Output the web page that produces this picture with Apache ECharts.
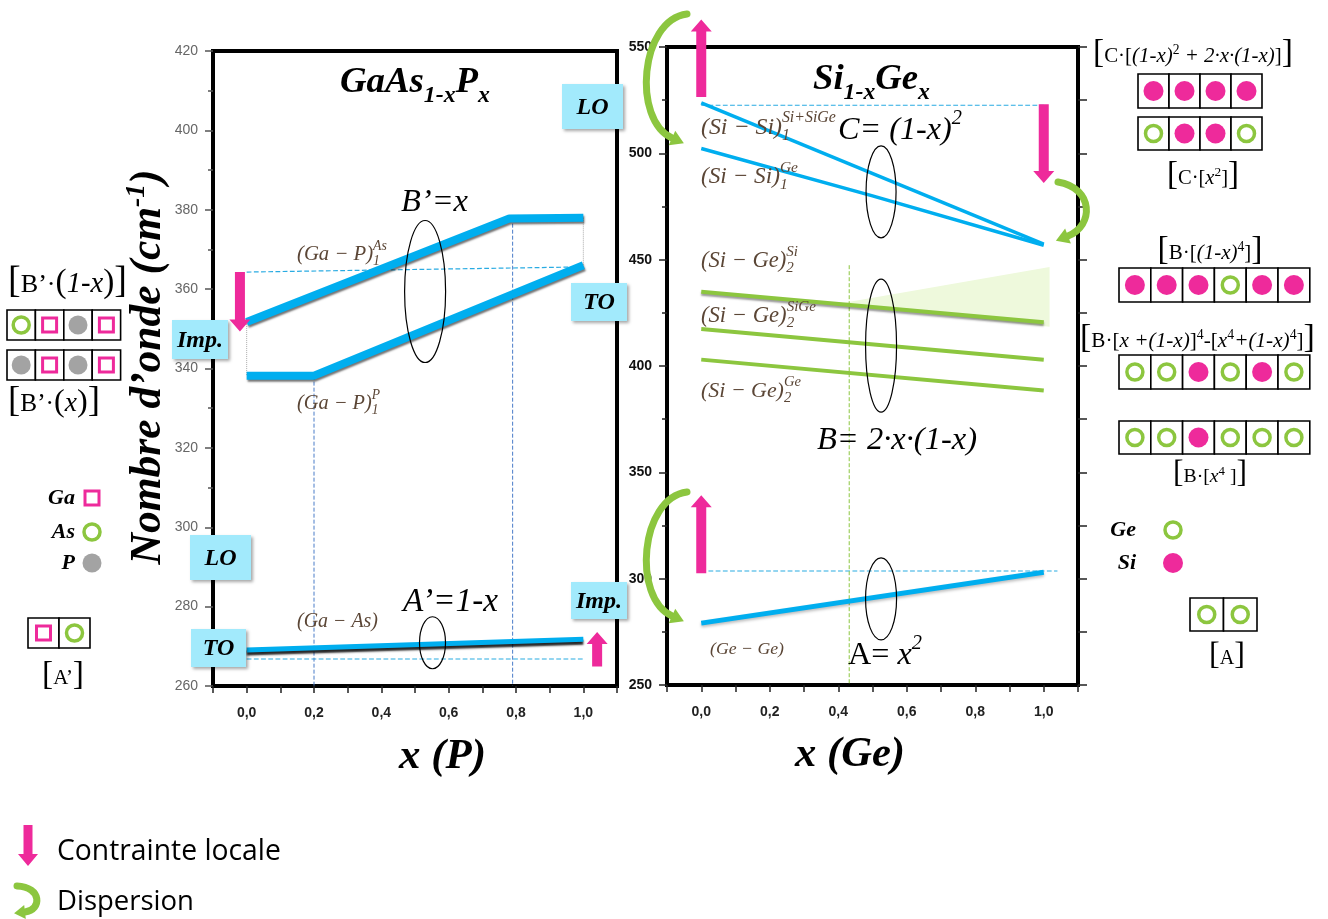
<!DOCTYPE html>
<html><head><meta charset="utf-8">
<script src="https://cdn.jsdelivr.net/npm/echarts@6/dist/echarts.min.js"></script>
<style>html,body{margin:0;padding:0;background:#fff}#c{width:1328px;height:919px}</style>
</head><body><div id="c"></div>
<script>
// ---------------- DATA ----------------
const xTickLabels = ['0,0','0,2','0,4','0,6','0,8','1,0'];
// GaAs(1-x)P(x) panel
const gaP_As_x = [0, 0.78, 1.0];
const gaP_As_y = [351.7, 377.8, 378.0];
const gaP_P_x  = [0, 0.2, 1.0];
const gaP_P_y  = [338.2, 338.2, 366.0];
const gaAs_x   = [0, 1.0];
const gaAs_y   = [269.1, 271.8];
const gaDashUpper_x = [0, 1.0], gaDashUpper_y = [364.3, 365.6];
const gaDashLower_x = [0, 1.0], gaDashLower_y = [266.8, 266.8];
const gaVDash1_x = [0.2, 0.2],  gaVDash1_y = [338.2, 260];
const gaVDash2_x = [0.79, 0.79], gaVDash2_y = [378, 260];
const gaDot0_x = [0, 0], gaDot0_y = [351.7, 338.2];
const gaDot1_x = [1, 1], gaDot1_y = [378, 366];
// Si(1-x)Ge(x) panel
const siSi1_x = [0, 1.0],      siSi1_y = [523.7, 457.3];
const siSiGe_x = [0, 0.5, 1.0], siSiGe_y = [502.3, 480.0, 456.8];
const siGeSi_x = [0, 1.0],     siGeSi_y = [434.9, 420.6];
const siGeSiGe_x = [0, 1.0],   siGeSiGe_y = [417.4, 402.9];
const siGeGe_x = [0, 1.0],     siGeGe_y = [403.0, 388.5];
const geGe_x = [0, 1.0],       geGe_y = [279.1, 303.0];
const siDashUpper_x = [0, 1.0],  siDashUpper_y = [522.6, 522.6];
const siDashLower_x = [0, 1.04], siDashLower_y = [303.6, 303.6];
const siVDash_x = [0.432, 0.432], siVDash_y = [447.4, 250];
const siTriangle = [[0.396, 429.2], [1.017, 446.6], [1.017, 418.4]];
// arrows [x, from, to]
const gaArrowDown = [-0.02, 364.3, 349.3];
const gaArrowUp   = [1.041, 264.9, 273.6];
const siArrowUp1  = [0, 526.5, 562.9];
const siArrowDown = [1.0, 523.1, 486.1];
const siArrowUp2  = [0, 302.5, 339.2];
// ellipses [x, y, rx(px), ry(px)]
const gaEllipses = [[0.53, 359.4, 20.5, 71], [0.552, 270.9, 13, 26]];
const siEllipses = [[0.525, 481.9, 15, 46], [0.525, 409.6, 15.5, 66.5], [0.525, 290.5, 15.5, 41]];
// legend atoms: S = Si (pink dot), G = Ge/As (green ring), Q = Ga (pink square), P = P (grey dot)
const cRowA = ['S','S','S','S'];
const cRowB = ['G','S','S','G'];
const bRowA = ['S','S','S','G','S','S'];
const bRowB = ['G','G','S','G','S','G'];
const bRowC = ['G','G','S','G','G','G'];
const aRow  = ['G','G'];
const bpRowA = ['G','Q','P','Q'];
const bpRowB = ['P','Q','P','Q'];
const apRow = ['Q','G'];

// ---------------- STYLE ----------------
const BLUE = '#00aeef', PINK = '#ee2a9b', GREEN = '#8cc63f', LBOX = '#a2eafc';
const SERIF = '"Liberation Serif", "DejaVu Serif", serif';
const zip = (xs, ys) => xs.map((x, i) => [x, ys[i]]);

const chart = echarts.init(document.getElementById('c'));

const xFmt = v => { const k = Math.round(v * 10); if (k < 0 || k > 10 || k % 2) return ''; return xTickLabels[k / 2]; };
function xAxisFor(gi) {
  return {type:'value', gridIndex:gi, min:-0.1, max:1.1, interval:0.1,
    axisLine:{show:true, onZero:false, lineStyle:{color:'#000', width:4}},
    axisTick:{show:true, length:7, lineStyle:{color:'#222', width:1.5}},
    axisLabel:{formatter:xFmt, color:'#222', fontSize:14, fontWeight:'bold', fontFamily:'Liberation Sans', margin:20},
    splitLine:{show:false}};
}
function ln(name, gi, data, color, width, extra) {
  return {name, type:'line', xAxisIndex:gi, yAxisIndex:gi, data, symbol:'none', silent:true,
    lineStyle:Object.assign({color, width}, extra || {}), z:3};
}
const shadow = {shadowColor:'rgba(0,0,0,0.55)', shadowBlur:2, shadowOffsetY:2, shadowOffsetX:1};

chart.setOption({
  animation:false,
  grid:[
    {left:213, top:51, width:404, height:635, show:true, borderColor:'#000', borderWidth:4, backgroundColor:'#fff'},
    {left:667, top:47, width:411, height:638, show:true, borderColor:'#000', borderWidth:4, backgroundColor:'#fff'}
  ],
  xAxis:[xAxisFor(0), xAxisFor(1)],
  yAxis:[
    {type:'value', gridIndex:0, min:260, max:420, interval:20,
     axisLine:{show:true, onZero:false, lineStyle:{color:'#000', width:4}},
     axisTick:{show:true, length:8, lineStyle:{color:'#555', width:1.5}},
     minorTick:{show:true, splitNumber:2, length:5, lineStyle:{color:'#555', width:1.5}},
     axisLabel:{color:'#666', fontSize:14, fontFamily:'Liberation Sans', margin:15},
     splitLine:{show:false}},
    {type:'value', gridIndex:1, min:250, max:550, interval:50,
     axisLine:{show:true, onZero:false, lineStyle:{color:'#000', width:4}},
     axisTick:{show:true, length:8, lineStyle:{color:'#222', width:1.5}},
     minorTick:{show:true, splitNumber:2, length:5, lineStyle:{color:'#222', width:1.5}},
     axisLabel:{color:'#111', fontSize:14, fontWeight:'bold', fontFamily:'Liberation Sans', margin:15},
     splitLine:{show:false}},
    {type:'value', gridIndex:1, position:'right', min:250, max:550, interval:50,
     axisLine:{show:true, onZero:false, lineStyle:{color:'#000', width:4}},
     axisTick:{show:true, length:9, lineStyle:{color:'#222', width:1.5}},
     minorTick:{show:true, splitNumber:2, length:9, lineStyle:{color:'#222', width:1.5}},
     axisLabel:{show:false}, splitLine:{show:false}}
  ],
  series:[
    ln('gaDashUpper', 0, zip(gaDashUpper_x, gaDashUpper_y), '#29abe2', 1.2, {type:'dashed'}),
    ln('gaDashLower', 0, zip(gaDashLower_x, gaDashLower_y), '#29abe2', 1.2, {type:'dashed'}),
    ln('gaVDash1', 0, zip(gaVDash1_x, gaVDash1_y), '#4a7cc8', 1, {type:'dashed'}),
    ln('gaVDash2', 0, zip(gaVDash2_x, gaVDash2_y), '#4a7cc8', 1, {type:'dashed'}),
    ln('gaDot0', 0, zip(gaDot0_x, gaDot0_y), '#aaa', 1, {type:'dotted'}),
    ln('gaDot1', 0, zip(gaDot1_x, gaDot1_y), '#aaa', 1, {type:'dotted'}),
    ln('(Ga-P)1 As', 0, zip(gaP_As_x, gaP_As_y), BLUE, 8, shadow),
    ln('(Ga-P)1 P', 0, zip(gaP_P_x, gaP_P_y), BLUE, 8, shadow),
    ln('(Ga-As)', 0, zip(gaAs_x, gaAs_y), BLUE, 5, {shadowColor:'rgba(0,0,0,0.85)', shadowBlur:2, shadowOffsetY:3}),
    ln('siDashUpper', 1, zip(siDashUpper_x, siDashUpper_y), '#29abe2', 1.2, {type:'dashed'}),
    ln('siDashLower', 1, zip(siDashLower_x, siDashLower_y), '#29abe2', 1.2, {type:'dashed'}),
    ln('siVDash', 1, zip(siVDash_x, siVDash_y), GREEN, 1, {type:'dashed'}),
    ln('(Si-Si)1 Si+SiGe', 1, zip(siSi1_x, siSi1_y), BLUE, 3.5),
    ln('(Si-Si)1 Ge', 1, zip(siSiGe_x, siSiGe_y), BLUE, 3.5),
    ln('(Si-Ge)2 Si', 1, zip(siGeSi_x, siGeSi_y), GREEN, 4, {shadowColor:'rgba(0,0,0,0.4)', shadowBlur:2, shadowOffsetY:2}),
    ln('(Si-Ge)2 SiGe', 1, zip(siGeSiGe_x, siGeSiGe_y), GREEN, 4),
    ln('(Si-Ge)2 Ge', 1, zip(siGeGe_x, siGeGe_y), GREEN, 4),
    ln('(Ge-Ge)', 1, zip(geGe_x, geGe_y), BLUE, 5, {shadowColor:'rgba(0,0,0,0.25)', shadowBlur:3, shadowOffsetY:2})
  ]
});

// ---------------- ANNOTATIONS ----------------
const P = (gi, x, y) => chart.convertToPixel({gridIndex:gi}, [x, y]);
const mctx = document.createElement('canvas').getContext('2d');
function fstr(s){ return (s.it ? 'italic ' : '') + (s.b ? 'bold ' : '') + s.size + 'px ' + (s.fam || SERIF); }
function mw(t, s){ mctx.font = fstr(s); return mctx.measureText(t).width; }
function textLine(x, base, segs, opt) {
  opt = opt || {};
  const def = opt.def || {};
  const list = segs.map(s => Object.assign({size:20, color:'#000'}, def, s));
  const layout = k => {
    let cx = 0; const items = [];
    for (const s0 of list) {
      const s = Object.assign({}, s0, {size:s0.size * k});
      if (s0.sup != null || s0.sub != null) {
        let w = 0;
        if (s0.sup != null) { items.push({t:s0.sup, s, x:cx, dy:(s0.supDy || 0) * k}); w = Math.max(w, mw(s0.sup, s)); }
        if (s0.sub != null) { items.push({t:s0.sub, s, x:cx, dy:(s0.subDy || 0) * k}); w = Math.max(w, mw(s0.sub, s)); }
        cx += w;
      } else { items.push({t:s0.t, s, x:cx, dy:(s0.dy || 0) * k}); cx += mw(s0.t, s); }
    }
    return {items, w:cx};
  };
  let L = layout(1);
  if (opt.fitW) L = layout(opt.fitW / L.w);
  const off = opt.align === 'center' ? -L.w / 2 : opt.align === 'right' ? -L.w : 0;
  return L.items.map(it => ({type:'text', z:110, x:x + off + it.x, y:base + it.dy - 0.3 * it.s.size,
    style:{text:it.t, font:fstr(it.s), fill:it.s.color, align:'left', verticalAlign:'middle', textAlign:'left', textVerticalAlign:'middle'}}));
}
function varrow(x, yFrom, yTo, shaftW, headW, headL, color) {
  const dir = Math.sign(yTo - yFrom), yb = yTo - dir * headL;
  return {type:'polygon', z:104, shape:{points:[[x - shaftW/2, yFrom], [x + shaftW/2, yFrom], [x + shaftW/2, yb], [x + headW/2, yb], [x, yTo], [x - headW/2, yb], [x - shaftW/2, yb]]}, style:{fill:color}};
}
function dataArrow(gi, a) {
  const p0 = P(gi, a[0], a[1]), p1 = P(gi, a[0], a[2]);
  return varrow(p0[0], p0[1], p1[1], 10, 21, 12, PINK);
}
function curveArrow(p0, c1, c2, p1, w, headW, headL, color) {
  let dx = p1[0] - c2[0], dy = p1[1] - c2[1]; const n = Math.hypot(dx, dy); dx /= n; dy /= n;
  const tip = [p1[0] + dx * headL, p1[1] + dy * headL];
  const b1 = [p1[0] - dy * headW / 2, p1[1] + dx * headW / 2], b2 = [p1[0] + dy * headW / 2, p1[1] - dx * headW / 2];
  return [
    {type:'bezierCurve', z:105, shape:{x1:p0[0], y1:p0[1], cpx1:c1[0], cpy1:c1[1], cpx2:c2[0], cpy2:c2[1], x2:p1[0], y2:p1[1]}, style:{fill:null, stroke:color, lineWidth:w, lineCap:'round'}},
    {type:'polygon', z:105, shape:{points:[tip, b1, b2]}, style:{fill:color}}
  ];
}
function ellipse(gi, e) {
  const c = P(gi, e[0], e[1]);
  return {type:'ellipse', z:106, shape:{cx:c[0], cy:c[1], rx:e[2], ry:e[3]}, style:{fill:'rgba(0,0,0,0)', stroke:'#000', lineWidth:1.2}};
}
function symbolEl(k, x, y) {
  if (k === 'S') return {type:'circle', z:112, shape:{cx:x, cy:y, r:10}, style:{fill:PINK}};
  if (k === 'G') return {type:'circle', z:112, shape:{cx:x, cy:y, r:8}, style:{fill:'#fff', stroke:GREEN, lineWidth:3.5}};
  if (k === 'Q') return {type:'rect', z:112, shape:{x:x - 7, y:y - 7, width:14, height:14}, style:{fill:'#fff', stroke:PINK, lineWidth:3}};
  return {type:'circle', z:112, shape:{cx:x, cy:y, r:9.5}, style:{fill:'#a3a3a3'}};
}
function cellRow(x0, y0, w, h, kinds) {
  const els = [];
  kinds.forEach((k, i) => {
    const cx = x0 + i * w;
    els.push({type:'rect', z:111, shape:{x:cx, y:y0, width:w, height:h}, style:{fill:'#fff', stroke:'#000', lineWidth:1.6}});
    els.push(symbolEl(k, cx + w / 2, y0 + h / 2));
  });
  return els;
}
function lbox(x0, y0, x1, y1, t) {
  return [{type:'rect', z:108, shape:{x:x0, y:y0, width:x1 - x0, height:y1 - y0}, style:{fill:LBOX, shadowBlur:3, shadowColor:'rgba(0,0,0,0.35)', shadowOffsetX:2, shadowOffsetY:2}}]
    .concat(textLine((x0 + x1) / 2, (y0 + y1) / 2 + 8, [{t, it:1, b:1, size:24}], {align:'center'}));
}

const G = [];
// green shaded triangle
G.push({type:'polygon', z:1, shape:{points:siTriangle.map(p => P(1, p[0], p[1]))}, style:{fill:'#eef9dc'}});
// ellipses
gaEllipses.forEach(e => G.push(ellipse(0, e)));
siEllipses.forEach(e => G.push(ellipse(1, e)));
// pink arrows
[gaArrowDown, gaArrowUp].forEach(a => G.push(dataArrow(0, a)));
[siArrowUp1, siArrowDown, siArrowUp2].forEach(a => G.push(dataArrow(1, a)));
// green dispersion arrows
G.push(...curveArrow([687, 14], [640, 20], [632, 120], [672, 138], 7, 16, 13, GREEN));
G.push(...curveArrow([687, 492], [640, 498], [632, 598], [672, 616], 7, 16, 13, GREEN));
G.push(...curveArrow([1058, 182], [1094, 188], [1094, 226], [1068, 236], 7, 16, 13, GREEN));
// light-blue mode boxes
G.push(...lbox(562, 84, 623, 129, 'LO'));
G.push(...lbox(571, 283, 627, 321, 'TO'));
G.push(...lbox(172, 320, 228, 359, 'Imp.'));
G.push(...lbox(190, 535, 251, 580, 'LO'));
G.push(...lbox(191, 629, 246, 667, 'TO'));
G.push(...lbox(571, 582, 627, 619, 'Imp.'));

// titles
const BI = {it:1, b:1};
G.push(...textLine(340, 94, [{t:'GaAs', size:34}, {sub:'1-x', size:22, subDy:8}, {t:'P', size:34}, {sub:'x', size:22, subDy:8}], {def:BI, fitW:150}));
G.push(...textLine(813, 91, [{t:'Si', size:34}, {sub:'1-x', size:22, subDy:8}, {t:'Ge', size:34}, {sub:'x', size:22, subDy:8}], {def:BI, fitW:117}));
// axis titles
G.push(...textLine(399, 770, [{t:'x (P)', size:40}], {def:BI, fitW:87}));
G.push(...textLine(795, 768, [{t:'x (Ge)', size:40}], {def:BI, fitW:110}));
G.push({type:'group', x:162, y:367, rotation:Math.PI / 2,
  children:textLine(0, 0, [{t:'Nombre d’onde (cm', size:38}, {t:'-1', size:24, dy:-15}, {t:')', size:38}], {def:BI, fitW:395, align:'center'})});
// weights
const IT = {it:1};
G.push(...textLine(401, 212, [{t:'B’=x', size:30}], {def:IT, fitW:67}));
G.push(...textLine(403, 612, [{t:'A’=1-x', size:30}], {def:IT, fitW:95}));
G.push(...textLine(838, 140, [{t:'C= (1-x)', size:30}, {t:'2', size:19, dy:-14}], {def:IT, fitW:124}));
G.push(...textLine(817, 450, [{t:'B= 2·x·(1-x)', size:30}], {def:IT, fitW:160}));
G.push(...textLine(848, 665, [{t:'A= ', size:30, it:0}, {t:'x', size:30}, {t:'2', size:19, dy:-14}], {def:IT, fitW:74}));
// bond labels
const BL = {it:1, color:'#5b4636'};
const bond = (x, b, main, sup, sub, w) => G.push(...textLine(x, b, [{t:main, size:18}].concat(sup != null || sub != null ? [{sup, sub, size:12, supDy:-9, subDy:4}] : []), {def:BL, fitW:w}));
bond(297, 261, '(Ga − P)', 'As', '1', 90);
bond(297, 410, '(Ga − P)', 'P', '1', 83);
bond(297, 628, '(Ga − As)', null, null, 81);
bond(701, 135, '(Si − Si)', 'Si+SiGe', '1', 135);
bond(701, 184, '(Si − Si)', 'Ge', '1', 97);
bond(701, 268, '(Si − Ge)', 'Si', '2', 97);
bond(701, 323, '(Si − Ge)', 'SiGe', '2', 115);
bond(701, 398, '(Si − Ge)', 'Ge', '2', 100);
bond(710, 655, '(Ge − Ge)', null, null, 74);

// right legend
const BR = (t) => ({t, size:32});
G.push(...textLine(1093, 63, [BR('['), {t:'C·[', size:20}, {t:'(1-x)', size:20, it:1}, {t:'2', size:13, dy:-8}, {t:' + 2·x·(1-x)', size:20, it:1}, {t:']', size:20}, BR(']')], {fitW:200}));
G.push(...cellRow(1138, 74, 31, 34, cRowA));
G.push(...cellRow(1138, 117, 31, 33, cRowB));
G.push(...textLine(1203, 185, [BR('['), {t:'C·[', size:20}, {t:'x', size:20, it:1}, {t:'2', size:13, dy:-8}, {t:']', size:20}, BR(']')], {fitW:72, align:'center'}));
G.push(...textLine(1210, 260, [BR('['), {t:'B·[', size:20}, {t:'(1-x)', size:20, it:1}, {t:'4', size:13, dy:-8}, {t:']', size:20}, BR(']')], {fitW:105, align:'center'}));
G.push(...cellRow(1119, 268, 31.8, 34, bRowA));
G.push(...textLine(1080, 348, [BR('['), {t:'B·[', size:20}, {t:'x +(1-x)', size:20, it:1}, {t:']', size:20}, {t:'4', size:13, dy:-8}, {t:'-[', size:20}, {t:'x', size:20, it:1}, {t:'4', size:13, dy:-8}, {t:'+(1-x)', size:20, it:1}, {t:'4', size:13, dy:-8}, {t:']', size:20}, BR(']')], {fitW:235}));
G.push(...cellRow(1119, 355, 31.8, 34, bRowB));
G.push(...cellRow(1119, 421, 31.8, 33, bRowC));
G.push(...textLine(1210, 483, [BR('['), {t:'B·[', size:20}, {t:'x', size:20, it:1}, {t:'4', size:13, dy:-8}, {t:' ]', size:20}, BR(']')], {fitW:74, align:'center'}));
G.push(...textLine(1136, 537, [{t:'Ge', size:22}], {def:BI, align:'right'}));
G.push(symbolEl('G', 1173, 530));
G.push(...textLine(1136, 570, [{t:'Si', size:22}], {def:BI, align:'right'}));
G.push(symbolEl('S', 1173, 563));
G.push(...cellRow(1190, 598, 33.5, 33, aRow));
G.push(...textLine(1227, 665, [BR('['), {t:'A', size:20}, BR(']')], {fitW:36, align:'center'}));

// left legend
G.push(...textLine(8, 293, [BR('['), {t:'B’·', size:22}, {t:'(', size:28}, {t:'1-x', size:24, it:1}, {t:')', size:28}, BR(']')], {fitW:119}));
G.push(...cellRow(7, 310, 28.4, 30, bpRowA));
G.push(...cellRow(7, 350, 28.4, 30, bpRowB));
G.push(...textLine(8, 412, [BR('['), {t:'B’·', size:22}, {t:'(', size:28}, {t:'x', size:24, it:1}, {t:')', size:28}, BR(']')], {fitW:92}));
G.push(...textLine(75, 505, [{t:'Ga', size:22}], {def:BI, align:'right'}));
G.push(symbolEl('Q', 92, 498));
G.push(...textLine(75, 539, [{t:'As', size:22}], {def:BI, align:'right'}));
G.push(symbolEl('G', 92, 532));
G.push(...textLine(75, 570, [{t:'P', size:22}], {def:BI, align:'right'}));
G.push(symbolEl('P', 92, 563));
G.push(...cellRow(28, 618, 31, 30, apRow));
G.push(...textLine(63, 685, [BR('['), {t:'A’', size:20}, BR(']')], {fitW:42, align:'center'}));

// bottom legend
G.push(varrow(28, 825, 866, 9, 20, 12, PINK));
G.push(...textLine(57, 860, [{t:'Contrainte locale', size:26, fam:'"Open Sans", sans-serif'}], {fitW:224}));
G.push(...curveArrow([17, 886], [42, 887], [42, 910], [25, 912], 7, 14, 11, GREEN));
G.push(...textLine(57, 910, [{t:'Dispersion', size:26, fam:'"Open Sans", sans-serif'}], {fitW:137}));

chart.setOption({graphic:{elements:G}});
</script></body></html>
